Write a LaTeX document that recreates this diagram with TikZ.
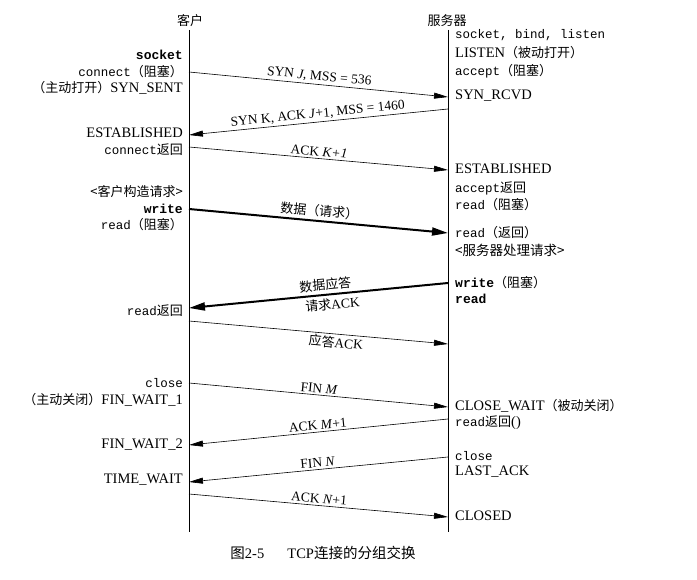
\documentclass[tikz,border=0pt]{standalone}
\usepackage{fontspec}
\setmainfont{Liberation Serif}
\setmonofont{Liberation Mono}
\newfontfamily\cjk{Noto Sans CJK SC}
\usetikzlibrary{arrows.meta}
\newcommand{\zh}[1]{{\cjk\fontsize{13}{14}\selectfont #1}}
\newcommand{\mytt}[1]{{\ttfamily\fontsize{12.5}{14}\selectfont #1}}
\newcommand{\mybt}[1]{{\ttfamily\bfseries\fontsize{13}{14}\selectfont #1}}
\begin{document}
\begin{tikzpicture}[x=1pt,y=-1pt,
  lbl/.style={font=\fontsize{14.5}{16}\selectfont, inner sep=1pt},
  lft/.style={lbl, anchor=east},
  rgt/.style={lbl, anchor=west},
  life/.style={line width=0.6pt},
  msg/.style={line width=0.6pt, -{Triangle[length=14pt,width=6pt]}},
  bmsg/.style={line width=2pt, -{Triangle[length=16pt,width=8pt]}},
  mlbl/.style={font=\fontsize{13.5}{15}\selectfont, sloped, inner sep=2pt},
  title/.style={font=\cjk\fontsize{13}{15}\selectfont, inner sep=1pt}
]
\useasboundingbox (0,0) rectangle (697,580);
\fill[white] (0,0) rectangle (697,580);

% titles and lifelines
\node[title] (ctitle) at (190,21) {客户};
\node[title] (stitle) at (447,21) {服务器};
\coordinate (ct) at (189,30); \coordinate (cb) at (189,532);
\coordinate (st) at (448,30); \coordinate (sb) at (448,532);
\draw[life] (ct) -- (cb);
\draw[life] (st) -- (sb);

% message end points
\coordinate (c1) at (189,72);  \coordinate (s1) at (448,97);
\coordinate (s2) at (448,109); \coordinate (c2) at (189,135);
\coordinate (c3) at (189,147); \coordinate (s3) at (448,170);
\coordinate (c4) at (189,209); \coordinate (s4) at (448,233);
\coordinate (s5) at (448,283); \coordinate (c5) at (189,308);
\coordinate (c6) at (189,321); \coordinate (s6) at (448,344);
\coordinate (c7) at (189,383); \coordinate (s7) at (448,407);
\coordinate (s8) at (448,419); \coordinate (c8) at (189,445);
\coordinate (s9) at (448,457); \coordinate (c9) at (189,482);
\coordinate (c10) at (189,494); \coordinate (s10) at (448,517);

% messages
\draw[msg] (c1) -- node[mlbl, above] (m1) {SYN \textit{J}, MSS = 536} (s1);
\draw[msg] (s2) -- node[mlbl, above] (m2) {SYN K, ACK \textit{J}+1, MSS = 1460} (c2);
\draw[msg] (c3) -- node[mlbl, above] (m3) {ACK \textit{K+1}} (s3);
\draw[bmsg] (c4) -- node[mlbl, above, yshift=1pt] (m4) {\zh{数据（请求）}} (s4);
\draw[bmsg] (s5) -- node[mlbl, above, pos=0.47, yshift=1pt] (m5a) {\zh{数据应答}}
                    node[mlbl, below, pos=0.45, yshift=-1pt] (m5b) {\zh{请求}ACK} (c5);
\draw[msg] (c6) -- node[mlbl, below, pos=0.57] (m6) {\zh{应答}ACK} (s6);
\draw[msg] (c7) -- node[mlbl, above] (m7) {FIN \textit{M}} (s7);
\draw[msg] (s8) -- node[mlbl, above] (m8) {ACK \textit{M}+1} (c8);
\draw[msg] (s9) -- node[mlbl, above] (m9) {FIN \textit{N}} (c9);
\draw[msg] (c10) -- node[mlbl, above] (m10) {ACK \textit{N}+1} (s10);

% client side labels
\node[lft] (l1) at (184,55) {\mybt{socket}};
\node[lft] (l2) at (184,72) {\mytt{connect}\zh{（阻塞）}};
\node[lft] (l3) at (184,88) {\zh{（主动打开）}SYN\_SENT};
\node[lft] (l4) at (184,133) {ESTABLISHED};
\node[lft] (l5) at (184,150) {\mytt{connect}\zh{返回}};
\node[lft] (l6) at (184,192) {{\cjk\fontsize{13}{14}\selectfont <客户构造请求>}};
\node[lft] (l7) at (184,209) {\mybt{write}};
\node[lft] (l8) at (184,225) {\mytt{read}\zh{（阻塞）}};
\node[lft] (l9) at (184,311) {\mytt{read}\zh{返回}};
\node[lft] (l10) at (184,383) {\mytt{close}};
\node[lft] (l11) at (184,400) {\zh{（主动关闭）}FIN\_WAIT\_1};
\node[lft] (l12) at (184,445) {FIN\_WAIT\_2};
\node[lft] (l13) at (184,480) {TIME\_WAIT};

% server side labels
\node[rgt] (r1) at (454,35) {\mytt{socket, bind, listen}};
\node[rgt] (r2) at (454,53) {LISTEN\zh{（被动打开）}};
\node[rgt] (r3) at (454,71) {\mytt{accept}\zh{（阻塞）}};
\node[rgt] (r4) at (454,96) {SYN\_RCVD};
\node[rgt] (r5) at (454,169) {ESTABLISHED};
\node[rgt] (r6) at (454,188) {\mytt{accept}\zh{返回}};
\node[rgt] (r7) at (454,205) {\mytt{read}\zh{（阻塞）}};
\node[rgt] (r8) at (454,233) {\mytt{read}\zh{（返回）}};
\node[rgt] (r9) at (454,250) {{\cjk\fontsize{13.5}{14}\selectfont <服务器处理请求>}};
\node[rgt] (r10) at (454,283) {\mybt{write}\zh{（阻塞）}};
\node[rgt] (r11) at (454,299) {\mybt{read}};
\node[rgt] (r12) at (454,406) {CLOSE\_WAIT\zh{（被动关闭）}};
\node[rgt] (r13) at (454,423) {\mytt{read}\zh{返回}()};
\node[rgt] (r14) at (454,456) {\mytt{close}};
\node[rgt] (r15) at (454,472) {LAST\_ACK};
\node[rgt] (r16) at (454,516) {CLOSED};

% caption
\node[font=\fontsize{14.5}{16}\selectfont] (cap) at (323,553) {{\cjk 图}2-5\hspace{1.6em}TCP{\cjk 连接的分组交换}};
\end{tikzpicture}
\end{document}
